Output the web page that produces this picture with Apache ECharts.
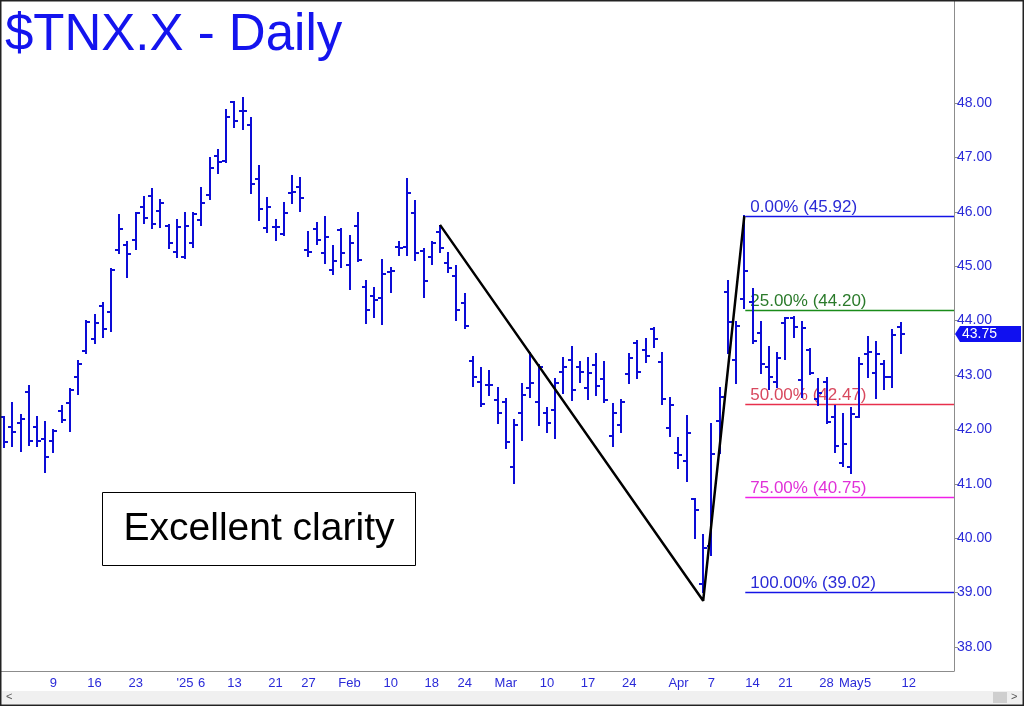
<!DOCTYPE html>
<html>
<head>
<meta charset="utf-8">
<script src="https://cdn.jsdelivr.net/npm/echarts@6/dist/echarts.min.js"></script>
<style>html,body{margin:0;padding:0;background:#fff;}#c{width:1024px;height:706px;}</style>
</head>
<body>
<div id="c"></div>
<script>
// ---- data ----
const dates = [
'2024-11-29','2024-12-02','2024-12-03','2024-12-04','2024-12-05','2024-12-06','2024-12-09','2024-12-10','2024-12-11','2024-12-12','2024-12-13',
'2024-12-16','2024-12-17','2024-12-18','2024-12-19','2024-12-20','2024-12-23','2024-12-24','2024-12-26','2024-12-27','2024-12-30','2024-12-31',
'2025-01-02','2025-01-03','2025-01-06','2025-01-07','2025-01-08','2025-01-10','2025-01-13','2025-01-14','2025-01-15','2025-01-16','2025-01-17',
'2025-01-21','2025-01-22','2025-01-23','2025-01-24','2025-01-27','2025-01-28','2025-01-29','2025-01-30','2025-01-31',
'2025-02-03','2025-02-04','2025-02-05','2025-02-06','2025-02-07','2025-02-10','2025-02-11','2025-02-12','2025-02-13','2025-02-14',
'2025-02-18','2025-02-19','2025-02-20','2025-02-21','2025-02-24','2025-02-25','2025-02-26','2025-02-27','2025-02-28',
'2025-03-03','2025-03-04','2025-03-05','2025-03-06','2025-03-07','2025-03-10','2025-03-11','2025-03-12','2025-03-13','2025-03-14',
'2025-03-17','2025-03-18','2025-03-19','2025-03-20','2025-03-21','2025-03-24','2025-03-25','2025-03-26','2025-03-27','2025-03-28','2025-03-31',
'2025-04-01','2025-04-02','2025-04-03','2025-04-04','2025-04-07','2025-04-08','2025-04-09','2025-04-10','2025-04-11',
'2025-04-14','2025-04-15','2025-04-16','2025-04-17','2025-04-21','2025-04-22','2025-04-23','2025-04-24','2025-04-25',
'2025-04-28','2025-04-29','2025-04-30','2025-05-01','2025-05-02','2025-05-05','2025-05-06','2025-05-07','2025-05-08','2025-05-09',
'2025-05-12','2025-05-13','2025-05-14','2025-05-15','2025-05-16','2025-05-19'
];
const openPx = [
42.23,42.05,42.11,42.68,42.05,41.82,41.79,42.33,42.48,42.97,43.45,
43.67,44.27,44.16,45.30,45.39,45.48,46.09,46.29,46.01,45.74,45.27,
45.17,45.42,45.84,46.31,47.03,46.93,48.01,47.86,47.60,46.60,45.70,
45.72,45.60,46.35,46.45,45.30,45.68,45.25,44.93,45.67,
45.03,45.74,44.62,44.45,44.41,44.90,45.35,45.36,45.98,45.28,
45.16,45.63,45.05,44.82,44.32,43.26,42.88,42.82,42.54,
42.51,41.31,42.31,42.76,42.51,42.30,42.36,43.06,43.28,43.15,
42.76,43.18,42.92,41.88,42.08,43.02,43.59,43.46,43.84,43.24,42.02,
41.57,41.41,40.72,39.15,39.86,42.16,44.53,43.28,44.39,
44.35,43.77,43.14,42.88,43.95,44.04,42.90,43.46,42.55,
42.88,42.23,41.38,41.31,42.23,43.39,43.03,43.20,42.97,43.89
];
const highPx = [
42.23,42.48,42.26,42.80,42.23,42.14,41.99,42.43,42.74,43.25,44.00,
44.10,44.32,44.95,45.94,45.45,45.98,46.28,46.41,46.22,45.76,45.85,
45.98,45.98,46.43,46.98,47.14,47.88,48.02,48.09,47.72,46.85,46.25,
45.85,46.17,46.65,46.63,45.63,45.79,45.91,45.37,45.68,
45.56,45.97,44.72,44.59,45.11,44.96,45.45,46.60,46.19,45.31,
45.45,45.73,45.24,45.00,44.49,43.33,43.12,43.08,42.76,
42.55,42.17,42.83,43.40,43.18,42.40,42.93,43.31,43.51,43.24,
43.31,43.39,43.23,42.47,42.54,43.39,43.63,43.66,43.86,43.40,42.57,
41.85,42.25,40.72,40.05,42.10,42.76,44.72,43.98,45.92,
44.58,43.98,43.52,43.41,44.04,44.06,43.98,43.47,42.92,
42.94,42.43,42.28,42.39,43.31,43.69,43.61,43.26,43.83,43.96
];
const lowPx = [
41.68,41.69,41.61,41.71,41.69,41.22,41.59,42.13,41.97,42.65,43.40,
43.58,43.70,43.80,45.24,44.81,45.31,45.79,45.71,45.72,45.33,45.17,
45.15,45.36,45.76,46.23,46.71,46.92,47.56,47.52,46.34,45.85,45.63,
45.48,45.57,46.16,46.02,45.19,45.41,45.06,44.86,44.99,
44.58,45.10,43.95,44.07,43.93,44.53,45.21,45.21,45.11,44.43,
45.04,45.27,44.90,44.02,43.86,42.79,42.43,42.63,42.11,
41.65,41.01,41.81,42.60,42.08,41.95,41.84,42.67,42.54,42.88,
42.55,42.63,42.51,41.69,41.96,42.85,42.94,43.23,43.52,42.47,41.88,
41.29,41.06,40.00,39.02,39.69,41.56,43.40,42.85,44.23,
43.58,43.04,42.74,42.78,43.29,43.69,42.59,43.02,42.45,
42.11,41.59,41.33,41.20,42.23,42.97,42.57,42.74,42.78,43.40
];
const closePx = [
41.76,41.95,42.20,41.79,41.79,41.49,41.97,42.17,42.72,43.20,43.97,
43.95,43.84,44.93,45.68,45.22,45.97,45.89,45.77,46.17,45.42,45.72,
45.73,45.96,46.16,46.80,46.92,47.75,47.66,47.86,46.51,46.05,46.08,
45.72,45.97,46.37,46.25,45.27,45.48,45.53,45.10,45.24,
45.42,45.11,44.19,44.38,44.86,44.92,45.33,46.35,45.24,44.72,
45.42,45.33,44.96,44.19,43.90,42.96,42.47,42.82,42.30,
41.76,42.08,42.63,42.85,43.15,42.12,42.86,43.15,42.72,43.06,
43.04,42.80,42.54,42.31,42.51,43.31,43.06,43.35,43.67,42.55,42.45,
41.53,41.94,40.52,39.82,41.54,42.60,43.98,43.90,44.92,
43.63,43.21,42.96,43.31,44.04,43.88,43.86,43.04,42.66,
42.14,41.69,41.74,42.28,43.21,43.43,43.39,42.97,43.74,43.75
];
const tickDates = ['2024-12-09','2024-12-16','2024-12-23','2024-12-30','2025-01-02','2025-01-06','2025-01-13','2025-01-21','2025-01-27',
'2025-02-03','2025-02-10','2025-02-18','2025-02-24','2025-03-03','2025-03-10','2025-03-17','2025-03-24','2025-03-31',
'2025-04-01','2025-04-07','2025-04-14','2025-04-21','2025-04-28','2025-05-01','2025-05-05','2025-05-12'];
const tickTexts = ['9','16','23','',"'25",'6','13','21','27','Feb','10','18','24','Mar','10','17','24','','Apr','7','14','21','28','May','5','12'];
const yTicks = [38, 39, 40, 41, 42, 43, 44, 45, 46, 47, 48];
const fibStart = '2025-04-11';
const fibLevels = [45.92, 44.20, 42.47, 40.75, 39.02];
const fibNames = ['0.00%', '25.00%', '50.00%', '75.00%', '100.00%'];
const fibLineColors = ['#1414e6', '#1a8c1a', '#e8304c', '#f020e8', '#1414e6'];
const fibTextColors = ['#2a2ad6', '#2a7a2a', '#d8485e', '#e030d8', '#2a2ad6'];
const zigDates = ['2025-02-19', '2025-04-04', '2025-04-11'];
const zigValues = [45.76, 38.85, 45.92];

// ---- build ----
const tickMap = {};
tickDates.forEach((d, i) => { tickMap[d] = tickTexts[i]; });
const bars = closePx.map((c, i) => [dates[i], openPx[i], highPx[i], lowPx[i], c]);
const BLUE = '#0c0cd6';
const FONT = '"Liberation Sans", Arial, sans-serif';

function renderOHLC(params, api) {
  const xi = api.value(0);
  const o = api.coord([xi, api.value(1)]);
  const h = api.coord([xi, api.value(2)]);
  const l = api.coord([xi, api.value(3)]);
  const c = api.coord([xi, api.value(4)]);
  const x = Math.round(o[0]);
  const st = { stroke: BLUE, lineWidth: 2 };
  const children = [
    { type: 'line', shape: { x1: x, y1: Math.round(h[1]) - 1, x2: x, y2: Math.round(l[1]) + 1 }, style: st },
    { type: 'line', shape: { x1: x - 4, y1: Math.round(o[1]), x2: x, y2: Math.round(o[1]) }, style: st },
    { type: 'line', shape: { x1: x, y1: Math.round(c[1]), x2: x + 4, y2: Math.round(c[1]) }, style: st }
  ];
  if (params.dataIndex === bars.length - 1) {
    const gx = params.coordSys.x + params.coordSys.width + 1;
    const cy = Math.round(c[1]);
    children.push({ type: 'polygon', shape: { points: [[gx, cy], [gx + 5, cy - 8], [gx + 66, cy - 8], [gx + 66, cy + 8], [gx + 5, cy + 8]] }, style: { fill: '#1010f0' } });
    children.push({ type: 'text', style: { text: api.value(4).toFixed(2), x: gx + 7, y: cy, verticalAlign: 'middle', align: 'left', fill: '#fff', font: '14px ' + FONT } });
  }
  return { type: 'group', children };
}

function renderFib(params, api) {
  const i = params.dataIndex;
  const p = api.coord([api.value(0), api.value(1)]);
  const right = params.coordSys.x + params.coordSys.width;
  const y = Math.round(p[1]) + 0.5;
  return { type: 'group', children: [
    { type: 'line', shape: { x1: p[0] + 1, y1: y, x2: right, y2: y }, style: { stroke: fibLineColors[i], lineWidth: 1.5 } },
    { type: 'text', style: { text: fibNames[i] + ' (' + fibLevels[i].toFixed(2) + ')', x: p[0] + 6, y: y - 1, verticalAlign: 'bottom', align: 'left', fill: fibTextColors[i], font: '17px ' + FONT } }
  ] };
}

const chart = echarts.init(document.getElementById('c'), null, { width: 1024, height: 706, renderer: 'canvas' });
chart.setOption({
  animation: false,
  backgroundColor: '#fff',
  grid: { left: 0, top: 0, right: 70, bottom: 35 },
  xAxis: {
    type: 'category', data: dates, boundaryGap: true,
    axisLine: { lineStyle: { color: '#8c8c8c', width: 1 } },
    axisTick: { alignWithLabel: true, inside: true, length: 4, interval: (idx, v) => tickMap.hasOwnProperty(v), lineStyle: { color: '#8c8c8c' } },
    axisLabel: { interval: (idx, v) => tickMap.hasOwnProperty(v), formatter: v => tickMap[v] || '', color: '#2a2ad8', fontSize: 13, fontFamily: FONT, margin: 6 },
    splitLine: { show: false }
  },
  yAxis: {
    type: 'value', position: 'right', min: 37.559, max: 49.893, scale: true,
    axisLine: { show: true, lineStyle: { color: '#8c8c8c', width: 1 } },
    axisTick: { show: true, length: 4, customValues: yTicks, lineStyle: { color: '#8c8c8c' } },
    axisLabel: { customValues: yTicks, color: '#2a2ad8', fontSize: 14, fontFamily: FONT, margin: 3, formatter: v => Number(v).toFixed(2) },
    splitLine: { show: false }
  },
  series: [
    { type: 'custom', name: 'TNX', renderItem: renderOHLC, data: bars, encode: { x: 0, y: [1, 2, 3, 4] }, z: 3 },
    { type: 'custom', name: 'fib', renderItem: renderFib, data: fibLevels.map(v => [fibStart, v]), encode: { x: 0, y: 1 }, z: 2 },
    { type: 'line', name: 'swing', data: zigDates.map((d, i) => [d, zigValues[i]]), symbol: 'none', lineStyle: { color: '#000', width: 2.5 }, z: 4 }
  ],
  graphic: [
    { type: 'text', left: 5, top: 10, style: { text: '$TNX.X - Daily', font: '51px ' + FONT, fill: '#1414ee' }, z: 10 },
    { type: 'rect', shape: { x: 102.5, y: 492.5, width: 313, height: 73 }, style: { fill: '#fff', stroke: '#000', lineWidth: 1 }, z: 10 },
    { type: 'text', x: 259, y: 529, style: { text: 'Excellent clarity', font: '39px ' + FONT, fill: '#000', align: 'center', verticalAlign: 'middle' }, z: 11 },
    { type: 'rect', shape: { x: 2, y: 691, width: 1020, height: 13 }, style: { fill: '#f0f0f0' }, z: 10 },
    { type: 'rect', shape: { x: 993, y: 692, width: 14, height: 11 }, style: { fill: '#cfcfcf' }, z: 11 },
    { type: 'text', x: 6, y: 697, style: { text: '<', font: '11px ' + FONT, fill: '#555', verticalAlign: 'middle' }, z: 11 },
    { type: 'text', x: 1011, y: 697, style: { text: '>', font: '11px ' + FONT, fill: '#555', verticalAlign: 'middle' }, z: 11 },
    { type: 'rect', shape: { x: 0.5, y: 0.5, width: 1023, height: 705 }, style: { fill: 'none', stroke: '#222', lineWidth: 2 }, z: 12 }
  ]
});
</script>
</body>
</html>
